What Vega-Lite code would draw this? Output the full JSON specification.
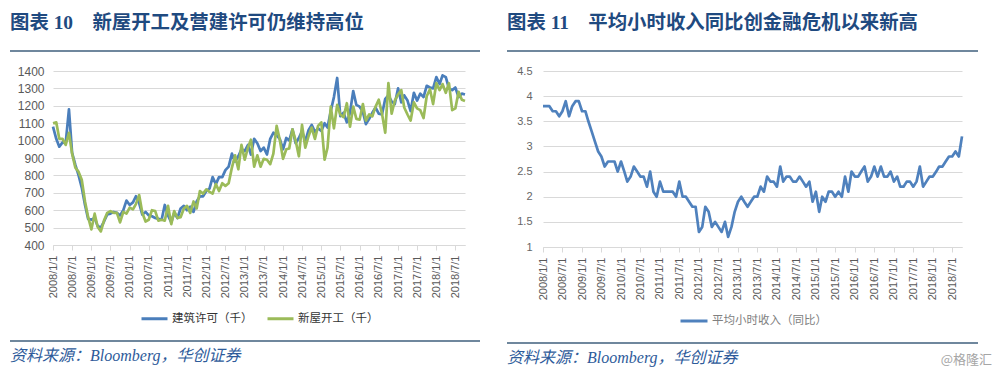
{
  "$schema": "https://vega.github.io/schema/vega-lite/v6.json",
  "background": "white",
  "padding": {"left": 10, "top": 12, "right": 0, "bottom": 0},
  "config": {
    "font": "Liberation Sans, Noto Sans CJK SC",
    "view": {"stroke": null},
    "axis": {"labelFont": "Liberation Sans, Noto Sans CJK SC", "labelColor": "#595959", "gridColor": "#d9d9d9", "domainColor": "#d9d9d9", "tickColor": "#d9d9d9", "title": null},
    "legend": {"labelFont": "Noto Sans CJK SC", "layout": {"bottom": {"anchor": "middle", "bounds": "full"}}}
  },
  "datasets": {
    "housing": [
      {"date":"2008-01-01","permits":1080,"starts":1100},{"date":"2008-02-01","permits":1010,"starts":1105},{"date":"2008-03-01","permits":965,"starts":1010},{"date":"2008-04-01","permits":990,"starts":1010},{"date":"2008-05-01","permits":985,"starts":975},{"date":"2008-06-01","permits":1180,"starts":1045},{"date":"2008-07-01","permits":930,"starts":925},{"date":"2008-08-01","permits":860,"starts":845},{"date":"2008-09-01","permits":800,"starts":820},{"date":"2008-10-01","permits":730,"starts":775},{"date":"2008-11-01","permits":630,"starts":650},{"date":"2008-12-01","permits":550,"starts":560},
      {"date":"2009-01-01","permits":545,"starts":490},{"date":"2009-02-01","permits":555,"starts":580},{"date":"2009-03-01","permits":510,"starts":505},{"date":"2009-04-01","permits":500,"starts":478},{"date":"2009-05-01","permits":535,"starts":540},{"date":"2009-06-01","permits":575,"starts":585},{"date":"2009-07-01","permits":580,"starts":595},{"date":"2009-08-01","permits":590,"starts":585},{"date":"2009-09-01","permits":585,"starts":585},{"date":"2009-10-01","permits":570,"starts":530},{"date":"2009-11-01","permits":600,"starts":590},{"date":"2009-12-01","permits":655,"starts":580},
      {"date":"2010-01-01","permits":630,"starts":615},{"date":"2010-02-01","permits":645,"starts":605},{"date":"2010-03-01","permits":680,"starts":635},{"date":"2010-04-01","permits":640,"starts":687},{"date":"2010-05-01","permits":575,"starts":585},{"date":"2010-06-01","permits":590,"starts":535},{"date":"2010-07-01","permits":570,"starts":545},{"date":"2010-08-01","permits":565,"starts":600},{"date":"2010-09-01","permits":555,"starts":595},{"date":"2010-10-01","permits":550,"starts":540},{"date":"2010-11-01","permits":545,"starts":545},{"date":"2010-12-01","permits":630,"starts":540},
      {"date":"2011-01-01","permits":570,"starts":625},{"date":"2011-02-01","permits":530,"starts":520},{"date":"2011-03-01","permits":585,"starts":595},{"date":"2011-04-01","permits":555,"starts":555},{"date":"2011-05-01","permits":610,"starts":560},{"date":"2011-06-01","permits":625,"starts":610},{"date":"2011-07-01","permits":600,"starts":625},{"date":"2011-08-01","permits":620,"starts":585},{"date":"2011-09-01","permits":590,"starts":650},{"date":"2011-10-01","permits":650,"starts":610},{"date":"2011-11-01","permits":680,"starts":710},{"date":"2011-12-01","permits":680,"starts":695},
      {"date":"2012-01-01","permits":710,"starts":720},{"date":"2012-02-01","permits":725,"starts":705},{"date":"2012-03-01","permits":790,"starts":695},{"date":"2012-04-01","permits":750,"starts":750},{"date":"2012-05-01","permits":790,"starts":710},{"date":"2012-06-01","permits":790,"starts":755},{"date":"2012-07-01","permits":830,"starts":740},{"date":"2012-08-01","permits":850,"starts":755},{"date":"2012-09-01","permits":925,"starts":845},{"date":"2012-10-01","permits":880,"starts":915},{"date":"2012-11-01","permits":910,"starts":835},{"date":"2012-12-01","permits":950,"starts":975},
      {"date":"2013-01-01","permits":940,"starts":890},{"date":"2013-02-01","permits":975,"starts":960},{"date":"2013-03-01","permits":920,"starts":1005},{"date":"2013-04-01","permits":1010,"starts":850},{"date":"2013-05-01","permits":985,"starts":915},{"date":"2013-06-01","permits":940,"starts":850},{"date":"2013-07-01","permits":960,"starts":895},{"date":"2013-08-01","permits":920,"starts":890},{"date":"2013-09-01","permits":1010,"starts":865},{"date":"2013-10-01","permits":1045,"starts":925},{"date":"2013-11-01","permits":1030,"starts":1085},{"date":"2013-12-01","permits":1010,"starts":1005},
      {"date":"2014-01-01","permits":950,"starts":895},{"date":"2014-02-01","permits":1015,"starts":950},{"date":"2014-03-01","permits":1000,"starts":955},{"date":"2014-04-01","permits":1065,"starts":1065},{"date":"2014-05-01","permits":985,"starts":1000},{"date":"2014-06-01","permits":1015,"starts":910},{"date":"2014-07-01","permits":1055,"starts":1090},{"date":"2014-08-01","permits":995,"starts":960},{"date":"2014-09-01","permits":1060,"starts":1025},{"date":"2014-10-01","permits":1090,"starts":1075},{"date":"2014-11-01","permits":1050,"starts":1010},{"date":"2014-12-01","permits":1070,"starts":1085},
      {"date":"2015-01-01","permits":1055,"starts":1105},{"date":"2015-02-01","permits":1100,"starts":890},{"date":"2015-03-01","permits":1075,"starts":960},{"date":"2015-04-01","permits":1170,"starts":1195},{"date":"2015-05-01","permits":1250,"starts":1070},{"date":"2015-06-01","permits":1360,"starts":1205},{"date":"2015-07-01","permits":1140,"starts":1150},{"date":"2015-08-01","permits":1160,"starts":1135},{"date":"2015-09-01","permits":1105,"starts":1215},{"date":"2015-10-01","permits":1160,"starts":1080},{"date":"2015-11-01","permits":1285,"starts":1195},{"date":"2015-12-01","permits":1205,"starts":1125},
      {"date":"2016-01-01","permits":1195,"starts":1120},{"date":"2016-02-01","permits":1165,"starts":1210},{"date":"2016-03-01","permits":1095,"starts":1115},{"date":"2016-04-01","permits":1125,"starts":1150},{"date":"2016-05-01","permits":1160,"starts":1140},{"date":"2016-06-01","permits":1190,"starts":1195},{"date":"2016-07-01","permits":1155,"starts":1235},{"date":"2016-08-01","permits":1150,"starts":1155},{"date":"2016-09-01","permits":1240,"starts":1045},{"date":"2016-10-01","permits":1260,"starts":1330},{"date":"2016-11-01","permits":1225,"starts":1155},{"date":"2016-12-01","permits":1210,"starts":1230},
      {"date":"2017-01-01","permits":1300,"starts":1265},{"date":"2017-02-01","permits":1220,"starts":1290},{"date":"2017-03-01","permits":1260,"starts":1190},{"date":"2017-04-01","permits":1230,"starts":1150},{"date":"2017-05-01","permits":1170,"starts":1115},{"date":"2017-06-01","permits":1275,"starts":1220},{"date":"2017-07-01","permits":1230,"starts":1185},{"date":"2017-08-01","permits":1270,"starts":1175},{"date":"2017-09-01","permits":1250,"starts":1130},{"date":"2017-10-01","permits":1315,"starts":1255},{"date":"2017-11-01","permits":1305,"starts":1295},{"date":"2017-12-01","permits":1300,"starts":1210},
      {"date":"2018-01-01","permits":1365,"starts":1330},{"date":"2018-02-01","permits":1325,"starts":1290},{"date":"2018-03-01","permits":1375,"starts":1325},{"date":"2018-04-01","permits":1365,"starts":1275},{"date":"2018-05-01","permits":1300,"starts":1330},{"date":"2018-06-01","permits":1290,"starts":1175},{"date":"2018-07-01","permits":1305,"starts":1185},{"date":"2018-08-01","permits":1250,"starts":1280},{"date":"2018-09-01","permits":1270,"starts":1235},{"date":"2018-10-01","permits":1265,"starts":1228}
    ],
    "ahe": [
      {"date":"2008-01-01","v":3.8},{"date":"2008-02-01","v":3.8},{"date":"2008-03-01","v":3.8},{"date":"2008-04-01","v":3.7},{"date":"2008-05-01","v":3.7},{"date":"2008-06-01","v":3.6},{"date":"2008-07-01","v":3.7},{"date":"2008-08-01","v":3.9},{"date":"2008-09-01","v":3.6},{"date":"2008-10-01","v":3.8},{"date":"2008-11-01","v":3.9},{"date":"2008-12-01","v":3.9},
      {"date":"2009-01-01","v":3.7},{"date":"2009-02-01","v":3.7},{"date":"2009-03-01","v":3.5},{"date":"2009-04-01","v":3.3},{"date":"2009-05-01","v":3.1},{"date":"2009-06-01","v":2.9},{"date":"2009-07-01","v":2.8},{"date":"2009-08-01","v":2.6},{"date":"2009-09-01","v":2.7},{"date":"2009-10-01","v":2.7},{"date":"2009-11-01","v":2.7},{"date":"2009-12-01","v":2.5},
      {"date":"2010-01-01","v":2.7},{"date":"2010-02-01","v":2.5},{"date":"2010-03-01","v":2.3},{"date":"2010-04-01","v":2.4},{"date":"2010-05-01","v":2.6},{"date":"2010-06-01","v":2.5},{"date":"2010-07-01","v":2.4},{"date":"2010-08-01","v":2.4},{"date":"2010-09-01","v":2.2},{"date":"2010-10-01","v":2.5},{"date":"2010-11-01","v":2.1},{"date":"2010-12-01","v":2.0},
      {"date":"2011-01-01","v":2.3},{"date":"2011-02-01","v":2.1},{"date":"2011-03-01","v":2.1},{"date":"2011-04-01","v":2.1},{"date":"2011-05-01","v":2.1},{"date":"2011-06-01","v":2.0},{"date":"2011-07-01","v":2.3},{"date":"2011-08-01","v":2.0},{"date":"2011-09-01","v":2.0},{"date":"2011-10-01","v":1.9},{"date":"2011-11-01","v":1.8},{"date":"2011-12-01","v":1.8},
      {"date":"2012-01-01","v":1.3},{"date":"2012-02-01","v":1.4},{"date":"2012-03-01","v":1.8},{"date":"2012-04-01","v":1.7},{"date":"2012-05-01","v":1.4},{"date":"2012-06-01","v":1.5},{"date":"2012-07-01","v":1.4},{"date":"2012-08-01","v":1.3},{"date":"2012-09-01","v":1.5},{"date":"2012-10-01","v":1.2},{"date":"2012-11-01","v":1.4},{"date":"2012-12-01","v":1.7},
      {"date":"2013-01-01","v":1.9},{"date":"2013-02-01","v":2.0},{"date":"2013-03-01","v":1.9},{"date":"2013-04-01","v":1.8},{"date":"2013-05-01","v":1.9},{"date":"2013-06-01","v":2.0},{"date":"2013-07-01","v":2.0},{"date":"2013-08-01","v":2.2},{"date":"2013-09-01","v":2.1},{"date":"2013-10-01","v":2.4},{"date":"2013-11-01","v":2.3},{"date":"2013-12-01","v":2.3},
      {"date":"2014-01-01","v":2.2},{"date":"2014-02-01","v":2.6},{"date":"2014-03-01","v":2.3},{"date":"2014-04-01","v":2.4},{"date":"2014-05-01","v":2.4},{"date":"2014-06-01","v":2.3},{"date":"2014-07-01","v":2.3},{"date":"2014-08-01","v":2.4},{"date":"2014-09-01","v":2.3},{"date":"2014-10-01","v":2.2},{"date":"2014-11-01","v":2.3},{"date":"2014-12-01","v":1.9},
      {"date":"2015-01-01","v":2.1},{"date":"2015-02-01","v":1.7},{"date":"2015-03-01","v":2.0},{"date":"2015-04-01","v":1.9},{"date":"2015-05-01","v":2.1},{"date":"2015-06-01","v":2.1},{"date":"2015-07-01","v":2.0},{"date":"2015-08-01","v":2.1},{"date":"2015-09-01","v":2.0},{"date":"2015-10-01","v":2.4},{"date":"2015-11-01","v":2.1},{"date":"2015-12-01","v":2.5},
      {"date":"2016-01-01","v":2.4},{"date":"2016-02-01","v":2.4},{"date":"2016-03-01","v":2.5},{"date":"2016-04-01","v":2.6},{"date":"2016-05-01","v":2.3},{"date":"2016-06-01","v":2.4},{"date":"2016-07-01","v":2.6},{"date":"2016-08-01","v":2.4},{"date":"2016-09-01","v":2.6},{"date":"2016-10-01","v":2.4},{"date":"2016-11-01","v":2.4},{"date":"2016-12-01","v":2.5},
      {"date":"2017-01-01","v":2.3},{"date":"2017-02-01","v":2.4},{"date":"2017-03-01","v":2.2},{"date":"2017-04-01","v":2.2},{"date":"2017-05-01","v":2.3},{"date":"2017-06-01","v":2.3},{"date":"2017-07-01","v":2.2},{"date":"2017-08-01","v":2.3},{"date":"2017-09-01","v":2.6},{"date":"2017-10-01","v":2.2},{"date":"2017-11-01","v":2.3},{"date":"2017-12-01","v":2.4},
      {"date":"2018-01-01","v":2.4},{"date":"2018-02-01","v":2.5},{"date":"2018-03-01","v":2.6},{"date":"2018-04-01","v":2.6},{"date":"2018-05-01","v":2.7},{"date":"2018-06-01","v":2.8},{"date":"2018-07-01","v":2.8},{"date":"2018-08-01","v":2.9},{"date":"2018-09-01","v":2.8},{"date":"2018-10-01","v":3.2}
    ]
  },
  "title": {"text": "@格隆汇", "orient": "bottom", "anchor": "end", "fontSize": 13, "fontWeight": "normal", "color": "#a6a6a6", "font": "Noto Sans CJK SC", "offset": -12, "baseline": "top", "dx": 14},
  "spacing": 27,
  "resolve": {"scale": {"color": "independent"}},
  "hconcat": [
    {
      "spacing": 13,
      "resolve": {"scale": {"color": "independent"}},
      "vconcat": [
        {
          "title": {"text": "图表 10　新屋开工及营建许可仍维持高位", "anchor": "start", "orient": "top", "fontSize": 19.4, "fontWeight": "bold", "color": "#1F4A80", "font": "Liberation Serif, Noto Sans CJK SC", "offset": -2, "baseline": "bottom"},
          "data": {"values": []},
          "mark": "point",
          "width": 470, "height": 2,
          "view": {"fill": "#6F879D", "stroke": null}
        },
        {
          "spacing": 0,
          "resolve": {"scale": {"color": "independent"}},
          "hconcat": [
            {"data": {"values": []}, "mark": "point", "width": 1, "height": 174},
            {
              "width": 412, "height": 174,
              "data": {"name": "housing"},
              "transform": [{"fold": ["permits", "starts"], "as": ["series", "value"]}],
              "mark": {"type": "line", "strokeWidth": 2.7, "strokeJoin": "round"},
              "encoding": {
                "x": {"field": "date", "type": "temporal", "scale": {"type": "utc", "nice": false},
                      "axis": {"format": "%Y/%-m/%-d", "tickCount": {"interval": "month", "step": 6}, "labelAngle": 270, "grid": false, "ticks": true, "tickSize": 5, "labelPadding": 5, "labelFontSize": 11, "labelOverlap": false}},
                "y": {"field": "value", "type": "quantitative", "scale": {"domain": [400, 1400], "nice": false, "zero": false},
                      "axis": {"values": [400, 500, 600, 700, 800, 900, 1000, 1100, 1200, 1300, 1400], "format": "d", "ticks": false, "domain": false, "labelPadding": 9, "labelFontSize": 12, "minExtent": 42, "grid": true}},
                "color": {"field": "series", "type": "nominal", "scale": {"domain": ["permits", "starts"], "range": ["#4A7EBB", "#9BBB59"]},
                          "legend": {"orient": "bottom", "direction": "horizontal", "title": null, "labelExpr": "datum.value == 'permits' ? '建筑许可（千）' : '新屋开工（千）'", "symbolType": "stroke", "symbolSize": 676, "symbolStrokeWidth": 3, "labelFontSize": 11.5, "labelColor": "#333333", "columnPadding": 8, "labelOffset": 3, "offset": 4, "padding": 2}}
              }
            }
          ]
        },
        {
          "title": {"text": "资料来源：Bloomberg，华创证券", "anchor": "start", "orient": "bottom", "fontSize": 16, "fontWeight": "normal", "fontStyle": "italic", "color": "#2E5B9A", "font": "Liberation Serif, Noto Sans CJK SC", "offset": 6, "baseline": "top"},
          "data": {"values": []},
          "mark": "point",
          "width": 470, "height": 2,
          "view": {"fill": "#6F879D", "stroke": null}
        }
      ]
    },
    {
      "spacing": 13,
      "resolve": {"scale": {"color": "independent"}},
      "vconcat": [
        {
          "title": {"text": "图表 11　平均小时收入同比创金融危机以来新高", "anchor": "start", "orient": "top", "fontSize": 19.4, "fontWeight": "bold", "color": "#1F4A80", "font": "Liberation Serif, Noto Sans CJK SC", "offset": -2, "baseline": "bottom"},
          "data": {"values": []},
          "mark": "point",
          "width": 471, "height": 2,
          "view": {"fill": "#6F879D", "stroke": null}
        },
        {
          "spacing": 0,
          "resolve": {"scale": {"color": "independent"}},
          "hconcat": [
            {"data": {"values": []}, "mark": "point", "width": 1, "height": 176},
            {
              "width": 419, "height": 176,
              "data": {"name": "ahe"},
              "mark": {"type": "line", "strokeWidth": 2.7, "strokeJoin": "round"},
              "encoding": {
                "x": {"field": "date", "type": "temporal", "scale": {"type": "utc", "nice": false},
                      "axis": {"format": "%Y/%-m/%-d", "tickCount": {"interval": "month", "step": 6}, "labelAngle": 270, "grid": false, "ticks": true, "tickSize": 5, "labelPadding": 5, "labelFontSize": 11, "labelOverlap": false}},
                "y": {"field": "v", "type": "quantitative", "scale": {"domain": [1, 4.5], "nice": false, "zero": false},
                      "axis": {"values": [1, 1.5, 2, 2.5, 3, 3.5, 4, 4.5], "format": ".1~f", "ticks": false, "domain": false, "labelPadding": 11, "labelFontSize": 11, "labelColor": "#666666", "minExtent": 35, "grid": true}},
                "color": {"datum": "平均小时收入（同比）", "type": "nominal", "scale": {"range": ["#4F81BD"]},
                          "legend": {"orient": "bottom", "direction": "horizontal", "title": null, "symbolType": "stroke", "symbolSize": 729, "symbolStrokeWidth": 3, "labelFontSize": 11.5, "labelColor": "#808080", "labelOffset": 3, "offset": 4, "padding": 2}}
              }
            }
          ]
        },
        {
          "title": {"text": "资料来源：Bloomberg，华创证券", "anchor": "start", "orient": "bottom", "fontSize": 16, "fontWeight": "normal", "fontStyle": "italic", "color": "#2E5B9A", "font": "Liberation Serif, Noto Sans CJK SC", "offset": 6, "baseline": "top"},
          "data": {"values": []},
          "mark": "point",
          "width": 471, "height": 2,
          "view": {"fill": "#6F879D", "stroke": null}
        }
      ]
    }
  ]
}
